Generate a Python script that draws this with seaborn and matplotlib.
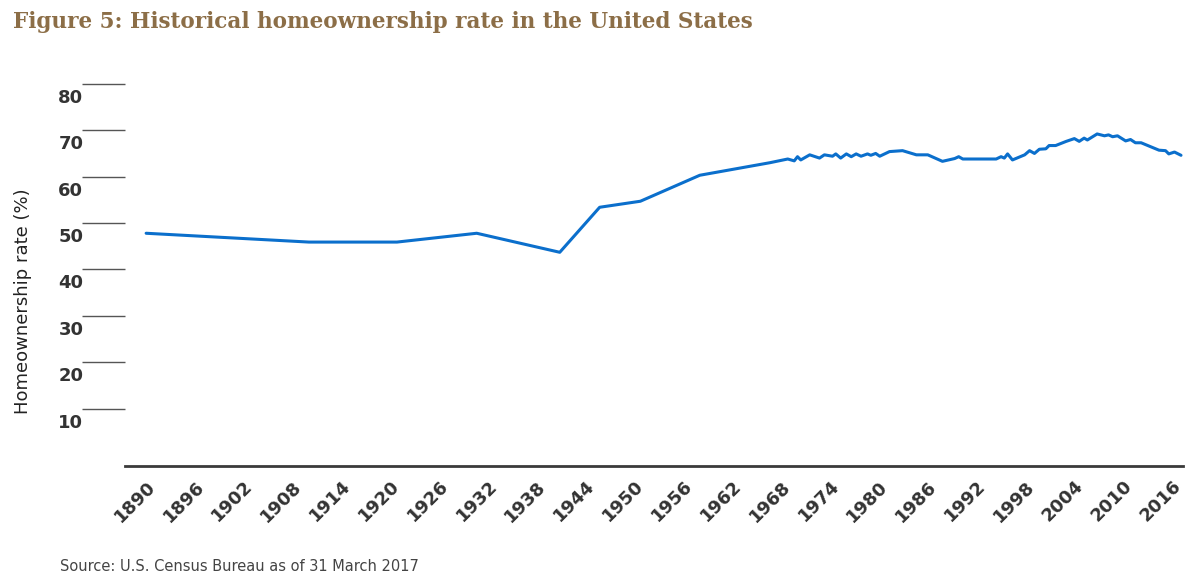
import matplotlib
matplotlib.use("Agg")
import matplotlib.pyplot as plt
import matplotlib.transforms as mtransforms
import pandas as pd
import seaborn as sns

years = [1890, 1910, 1920.8, 1930.6, 1940.8, 1945.7, 1950.7, 1958.0,
         1966.6, 1968.8, 1969.6, 1970.0, 1970.4, 1971.5, 1972.7, 1973.3, 1974.3, 1974.7,
         1975.3, 1976.0, 1976.6, 1977.2, 1977.8, 1978.6, 1979.0, 1979.6, 1980.1, 1981.3,
         1982.9, 1984.6, 1986.0, 1987.8, 1989.3, 1989.8, 1990.3, 1994.4, 1995.0, 1995.4,
         1995.8, 1996.4, 1997.9, 1998.5, 1999.1, 1999.7, 2000.5, 2000.9, 2001.7, 2003.0,
         2004.0, 2004.6, 2005.2, 2005.6, 2006.8, 2007.7, 2008.2, 2008.7, 2009.3, 2010.3,
         2010.9, 2011.5, 2012.2, 2014.4, 2015.2, 2015.6, 2016.3, 2017.1]
rates = [47.8, 45.9, 45.9, 47.8, 43.7, 53.4, 54.7, 60.3,
         63.0, 63.8, 63.4, 64.3, 63.6, 64.7, 64.0, 64.7, 64.4, 64.9,
         64.0, 64.9, 64.3, 64.9, 64.4, 64.9, 64.6, 65.0, 64.4, 65.4,
         65.6, 64.7, 64.7, 63.3, 63.9, 64.3, 63.8, 63.8, 64.3, 64.0,
         64.9, 63.6, 64.7, 65.6, 65.0, 65.9, 66.0, 66.7, 66.7, 67.6,
         68.2, 67.6, 68.3, 67.9, 69.2, 68.8, 69.0, 68.6, 68.8, 67.7,
         68.0, 67.3, 67.3, 65.7, 65.6, 64.9, 65.3, 64.6]
x_ticks = list(range(1890, 2017, 6))
y_ticks = [10, 20, 30, 40, 50, 60, 70, 80]

df = pd.DataFrame({"year": years, "rate": rates})

sns.set_style("white")
fig = plt.figure(figsize=(11.97, 5.87), dpi=100)
ax = fig.add_axes([0.1044, 0.206, 0.8836, 0.667])
sns.lineplot(data=df, x="year", y="rate", color="#0B6FCC", linewidth=2.2, ax=ax)

ax.set_xlim(1887.4, 2017.3)
ax.set_ylim(-2.37, 82)
for s in ["top", "right", "left"]:
    ax.spines[s].set_visible(False)
ax.spines["bottom"].set_color("#3a3a3a")
ax.spines["bottom"].set_linewidth(2)

ax.set_xticks(x_ticks)
ax.set_xticklabels([str(t) for t in x_ticks], rotation=45, ha="right",
                   rotation_mode="anchor", fontsize=13, fontweight="bold", color="#333333")
ax.tick_params(axis="x", length=0, pad=8)

# y ticks: long marks, labels drawn below each mark
ax.set_yticks(y_ticks)
ax.set_yticklabels([])
ax.tick_params(axis="y", length=31, width=1, color="#555555", left=True)
trans = mtransforms.blended_transform_factory(ax.transAxes, ax.transData) + \
    mtransforms.ScaledTranslation(0, -0.14, fig.dpi_scale_trans)
for v in y_ticks:
    ax.text(-0.063, v, str(v), transform=trans, fontsize=13, fontweight="bold",
            color="#333333", ha="left", va="center")

ax.set_xlabel("")
ax.set_ylabel("Homeownership rate (%)", fontsize=13, color="#222222")
ax.yaxis.set_label_coords(-0.088, 0.42)

fig.text(0.011, 0.962, "Figure 5: Historical homeownership rate in the United States",
         fontsize=15.5, fontweight="bold", family="DejaVu Serif", color="#8C6E47", va="center")
fig.text(0.05, 0.035, "Source: U.S. Census Bureau as of 31 March 2017",
         fontsize=10.5, color="#444444", va="center")

fig.savefig("out.png", dpi=100)
